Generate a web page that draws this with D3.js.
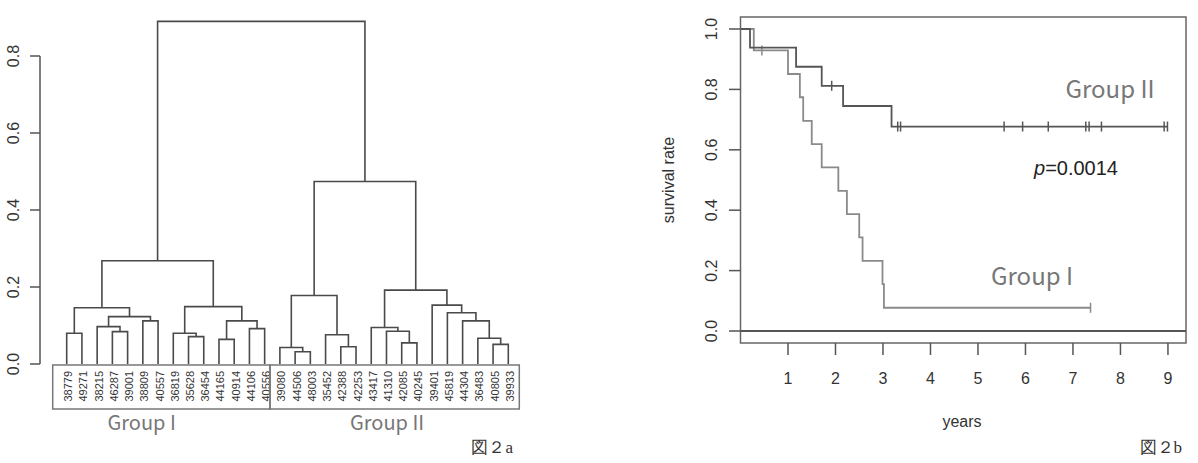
<!DOCTYPE html>
<html>
<head>
<meta charset="utf-8">
<title>Figure 2</title>
<style>
body { margin: 0; background: #fff; }
svg { display: block; background: #fff; }
.tree { fill: none; stroke: #4a4a4a; stroke-width: 1.6; }
.axis-line { stroke: #555; stroke-width: 1.5; fill: none; }
.tick-label { font-family: "Liberation Sans", Arial, sans-serif; font-size: 16px; fill: #333; }
.axis-title { font-family: "Liberation Sans", Arial, sans-serif; font-size: 16px; fill: #333; }
.leaf-label { font-family: "Liberation Sans", Arial, sans-serif; font-size: 11px; fill: #333; }
.group-label { font-family: "Noto Sans CJK JP", "Noto Sans", sans-serif; fill: #777; }
.caption { font-family: "Liberation Serif", "DejaVu Serif", serif; font-size: 17px; fill: #333; }
</style>
</head>
<body>
<div id="chart"></div>
<script src="https://cdn.jsdelivr.net/npm/d3@7"></script>
<script>

// ---- data: dendrogram (figure 2a) ----
const leafLabels = ['38779', '49271', '38215', '46287', '39001', '38809', '40557',
	'36819', '35628', '36454', '44165', '40914', '44106', '40556',
	'39080', '44506', '48003', '35452', '42388', '42253', '43417', '41310',
	'42085', '40245', '39401', '45819', '44304', '36483', '40805', '39933'];

// hclust style merge table: negative = leaf (1-based), positive = earlier merge (1-based)
const merges = [
	[-16, -17], [-15, 1], [-19, -20], [-18, 3], [2, 4],
	[-29, -30], [-28, 6], [-27, 7], [-26, 8], [-25, 9],
	[-23, -24], [-22, 11], [-21, 12], [13, 10], [5, 14],
	[-1, -2], [-4, -5], [-3, 17], [-6, -7], [18, 19], [16, 20],
	[-9, -10], [-8, 22], [-11, -12], [-13, -14], [24, 25], [23, 26],
	[21, 27], [28, 15]
];
const mergeHeights = [
	0.032, 0.043, 0.045, 0.076, 0.178,
	0.051, 0.067, 0.112, 0.133, 0.153,
	0.055, 0.085, 0.095, 0.192, 0.474,
	0.080, 0.084, 0.097, 0.112, 0.123, 0.146,
	0.071, 0.080, 0.064, 0.092, 0.112, 0.149,
	0.268, 0.890
];
const treeTicks = [0, 0.2, 0.4, 0.6, 0.8];
const treeGroups = ['Group I', 'Group II'];
const treeGroupSizes = [14, 16];

// ---- data: survival curves (figure 2b) ----
const g2Times = [0, 0.20, 1.17, 1.71, 2.16, 3.18];
const g2Surv = [1, 0.938, 0.875, 0.812, 0.745, 0.677];
const g2Censor = [1.92, 3.31, 3.37, 5.55, 5.94, 6.48, 7.27, 7.34, 7.60, 8.92, 8.99];
const g2End = 8.99;

const g1Times = [0, 0.28, 1.00, 1.25, 1.32, 1.50, 1.71, 2.06, 2.24, 2.50, 2.57, 2.99, 3.02];
const g1Surv = [1, 0.929, 0.851, 0.774, 0.696, 0.619, 0.542, 0.464, 0.387, 0.310, 0.232, 0.155, 0.077];
const g1Censor = [0.45, 7.37];
const g1End = 7.37;

const survYTicks = [0, 0.2, 0.4, 0.6, 0.8, 1.0];
const survXTicks = [1, 2, 3, 4, 5, 6, 7, 8, 9];

const width = 1198, height = 463;
const svg = d3.select('#chart').append('svg')
	.attr('width', width)
	.attr('height', height);

// ================= dendrogram =================
const tx = d3.scaleLinear().domain([0, leafLabels.length - 1]).range([66.7, 508.3]);
const ty = d3.scaleLinear().domain([0, 0.8]).range([364, 56]);

const tree = svg.append('g');

// x of each node: leaf position or midpoint of its children
const nodeX = [];
function childX(c) { return c < 0 ? tx(-c - 1) : nodeX[c - 1]; }
function childH(c) { return c < 0 ? 0 : mergeHeights[c - 1]; }
merges.forEach((m, i) => {
	const xl = childX(m[0]), xr = childX(m[1]);
	nodeX[i] = (xl + xr) / 2;
	const h = mergeHeights[i];
	tree.append('path')
		.attr('class', 'tree')
		.attr('d', `M${xl},${ty(childH(m[0]))}V${ty(h)}H${xr}V${ty(childH(m[1]))}`);
});

// y axis
const tAxis = tree.append('g');
tAxis.append('line').attr('class', 'axis-line')
	.attr('x1', 40).attr('x2', 40)
	.attr('y1', ty(0)).attr('y2', ty(0.8));
tAxis.selectAll('line.tk').data(treeTicks).enter().append('line')
	.attr('class', 'axis-line tk')
	.attr('x1', 30).attr('x2', 40)
	.attr('y1', d => ty(d)).attr('y2', d => ty(d));
tAxis.selectAll('text').data(treeTicks).enter().append('text')
	.attr('class', 'tick-label')
	.attr('text-anchor', 'middle')
	.attr('dominant-baseline', 'central')
	.attr('transform', d => `translate(13,${ty(d)}) rotate(-90)`)
	.text(d => d.toFixed(1));

// leaf labels and boxes
tree.selectAll('text.leaf').data(leafLabels).enter().append('text')
	.attr('class', 'leaf-label leaf')
	.attr('text-anchor', 'end')
	.attr('dominant-baseline', 'central')
	.attr('transform', (d, i) => `translate(${tx(i) + 1.5},371) rotate(-90)`)
	.text(d => d);

const boxEdges = [52.7, 270, 519.3];
const groupShift = [-24, -7];
let start = 0;
treeGroups.forEach((gname, gi) => {
	tree.append('rect')
		.attr('x', boxEdges[gi]).attr('y', 365)
		.attr('width', boxEdges[gi + 1] - boxEdges[gi]).attr('height', 44)
		.attr('fill', 'none').attr('stroke', '#777').attr('stroke-width', 1.5);
	const mid = (tx(start) + tx(start + treeGroupSizes[gi] - 1)) / 2;
	tree.append('text')
		.attr('class', 'group-label')
		.attr('font-size', 20)
		.attr('x', mid + groupShift[gi]).attr('y', 430)
		.attr('text-anchor', 'middle')
		.text(gname);
	start += treeGroupSizes[gi];
});

svg.append('text').attr('class', 'caption')
	.attr('x', 513).attr('y', 453).attr('text-anchor', 'end')
	.text('図２a');

// ================= survival curves =================
const sx = d3.scaleLinear().domain([0, 9.38]).range([740.5, 1186]);
const sy = d3.scaleLinear().domain([0, 1]).range([331, 29]);

const surv = svg.append('g');

// plot box
surv.append('rect')
	.attr('x', 740.5).attr('y', 17)
	.attr('width', 1186 - 740.5).attr('height', 343 - 17)
	.attr('fill', 'none').attr('stroke', '#666').attr('stroke-width', 1.5);

// h = 0 reference line
surv.append('line')
	.attr('x1', 740.5).attr('x2', 1186)
	.attr('y1', sy(0)).attr('y2', sy(0))
	.attr('stroke', '#555').attr('stroke-width', 2.2);

// y axis ticks
surv.selectAll('line.ytk').data(survYTicks).enter().append('line')
	.attr('class', 'axis-line ytk')
	.attr('x1', 729).attr('x2', 740.5)
	.attr('y1', d => sy(d)).attr('y2', d => sy(d));
surv.selectAll('text.ytl').data(survYTicks).enter().append('text')
	.attr('class', 'tick-label ytl')
	.attr('text-anchor', 'middle')
	.attr('dominant-baseline', 'central')
	.attr('transform', d => `translate(711,${sy(d)}) rotate(-90)`)
	.text(d => d.toFixed(1));

// x axis ticks
surv.selectAll('line.xtk').data(survXTicks).enter().append('line')
	.attr('class', 'axis-line xtk')
	.attr('x1', d => sx(d)).attr('x2', d => sx(d))
	.attr('y1', 343).attr('y2', 355);
surv.selectAll('text.xtl').data(survXTicks).enter().append('text')
	.attr('class', 'tick-label xtl')
	.attr('text-anchor', 'middle')
	.attr('x', d => sx(d)).attr('y', 384)
	.text(d => d);

// axis titles
surv.append('text').attr('class', 'axis-title')
	.attr('text-anchor', 'middle')
	.attr('transform', 'translate(674,180) rotate(-90)')
	.text('survival rate');
surv.append('text').attr('class', 'axis-title')
	.attr('text-anchor', 'middle')
	.attr('x', 962).attr('y', 427)
	.text('years');

function drawCurve(times, survs, censor, end, color) {
	const pts = times.map((t, i) => [t, survs[i]]);
	pts.push([end, survs[survs.length - 1]]);
	const line = d3.line()
		.x(d => sx(d[0])).y(d => sy(d[1]))
		.curve(d3.curveStepAfter);
	surv.append('path')
		.datum(pts)
		.attr('d', line)
		.attr('fill', 'none')
		.attr('stroke', color)
		.attr('stroke-width', 1.8);
	surv.selectAll(null).data(censor).enter().append('line')
		.attr('x1', d => sx(d)).attr('x2', d => sx(d))
		.attr('y1', d => sy(survs[d3.bisectRight(times, d) - 1]) - 5)
		.attr('y2', d => sy(survs[d3.bisectRight(times, d) - 1]) + 5)
		.attr('stroke', color).attr('stroke-width', 1.5);
}

drawCurve(g1Times, g1Surv, g1Censor, g1End, '#8a8a8a');
drawCurve(g2Times, g2Surv, g2Censor, g2End, '#555');

// labels in plot
surv.append('text').attr('class', 'group-label')
	.attr('font-size', 24)
	.attr('x', 1110).attr('y', 98).attr('text-anchor', 'middle')
	.text('Group II');
surv.append('text').attr('class', 'group-label')
	.attr('font-size', 24)
	.attr('x', 1032).attr('y', 285).attr('text-anchor', 'middle')
	.text('Group I');

const pText = surv.append('text')
	.attr('font-family', '"Liberation Sans", Arial, sans-serif')
	.attr('font-size', 20).attr('fill', '#222')
	.attr('x', 1034).attr('y', 175);
pText.append('tspan').attr('font-style', 'italic').text('p');
pText.append('tspan').text('=0.0014');

svg.append('text').attr('class', 'caption')
	.attr('x', 1182).attr('y', 453).attr('text-anchor', 'end')
	.text('図２b');

</script>
</body>
</html>
